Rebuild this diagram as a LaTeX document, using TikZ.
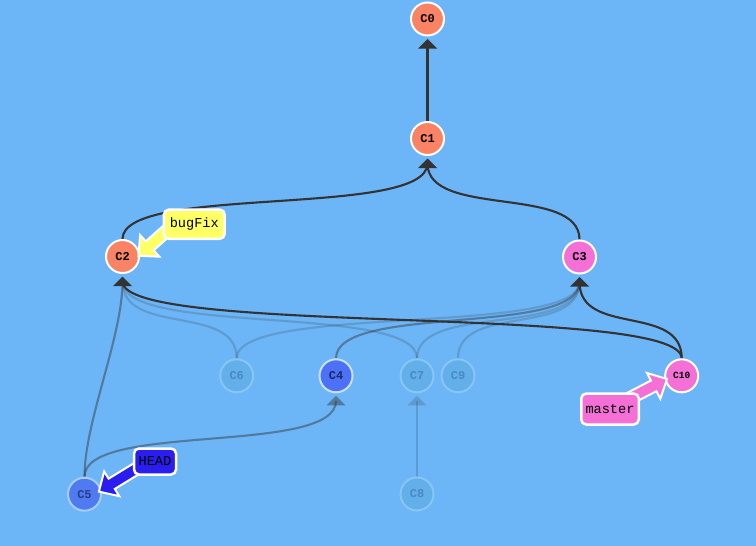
\documentclass[tikz,border=0pt]{standalone}
\usepackage{fontspec}
\newfontfamily\cmono{Liberation Mono}
\usetikzlibrary{calc}
\definecolor{bgblue}{RGB}{108,181,247}
\definecolor{salmon}{RGB}{250,131,101}
\definecolor{pinkc}{RGB}{244,112,214}
\definecolor{bluec}{RGB}{76,112,246}
\definecolor{headblue}{RGB}{43,29,240}
\definecolor{yellowc}{RGB}{255,255,102}
\definecolor{edgec}{RGB}{51,51,51}
\definecolor{fadefill}{RGB}{99,175,233}
\definecolor{fadestroke}{RGB}{135,198,245}
\definecolor{fadetext}{RGB}{72,137,198}
\pgfdeclarelayer{back}
\pgfdeclarelayer{front}
\pgfsetlayers{back,main,front}
\newcommand\EdgeTip[2]{\fill[edgec,#2] ($(#1)+(0,20)$) -- ++(9.5,9.5) -- ++(-19,0) -- cycle;}
\newcommand\BranchArrow[3]{%
  \path ($(#2)!15pt!(#1)$) coordinate (hb);
  \filldraw[fill=#3, draw=white, line width=2pt, line join=miter]
    ($(#1)!6pt!90:(#2)$) -- ($(hb)!6pt!90:(#2)$) -- ($(hb)!14.5pt!90:(#2)$) -- (#2)
    -- ($(hb)!14.5pt!-90:(#2)$) -- ($(hb)!6pt!-90:(#2)$) -- ($(#1)!6pt!-90:(#2)$) -- cycle;}
\begin{document}
\begin{tikzpicture}[x=1pt,y=-1pt,
  commit/.style={circle, draw=white, line width=2pt, minimum size=33pt, inner sep=0pt,
    font=\cmono\bfseries\fontsize{12}{12}\selectfont},
  salmoncommit/.style={commit, fill=salmon},
  pinkcommit/.style={commit, fill=pinkc},
  fadecommit/.style={commit, fill=fadefill, draw=fadestroke, text=fadetext},
  edge/.style={draw=edgec, line width=2.1pt},
  midedge/.style={edge, draw opacity=0.45},
  fadeedge/.style={edge, draw opacity=0.2},
  branch/.style={rectangle, rounded corners=5pt, draw=white, line width=2.5pt, inner sep=0pt,
    font=\cmono\fontsize{13.6}{14}\selectfont, text=black}]
\useasboundingbox (0,0) rectangle (756,546);
\begin{pgfonlayer}{back}
\fill[bgblue] (0,0) rectangle (756,546);
\end{pgfonlayer}
% commits
\node[salmoncommit] (C0) at (427.5,19) {C0};
\node[salmoncommit] (C1) at (427.5,138.5) {C1};
\node[salmoncommit] (C2) at (122.5,256.5) {C2};
\node[pinkcommit] (C3) at (579.5,257) {C3};
\node[fadecommit] (C6) at (236.7,375.8) {C6};
\node[commit, fill=bluec, draw={rgb,255:red,200;green,225;blue,250}, text={rgb,255:red,30;green,40;blue,100}] (C4) at (336,375.8) {C4};
\node[fadecommit] (C7) at (417,375.8) {C7};
\node[fadecommit] (C9) at (458,375.8) {C9};
\node[pinkcommit, font=\cmono\bfseries\fontsize{9.5}{9.5}\selectfont] (C10) at (681.7,375.8) {C10};
\node[commit, fill={rgb,255:red,80;green,122;blue,240}, draw={rgb,255:red,165;green,205;blue,250}, text={rgb,255:red,40;green,62;blue,135}] (C5) at (84.5,494.2) {C5};
\node[fadecommit] (C8) at (417,494) {C8};
% branch labels
\begin{pgfonlayer}{front}
\node[branch, fill=yellowc, minimum width=60.8pt, minimum height=29.2pt] (bugFix) at (194.3,224.2) {bugFix};
\node[branch, fill=pinkc, minimum width=57.5pt, minimum height=31pt] (master) at (610,409) {master};
\node[branch, fill=headblue, minimum width=42pt, minimum height=26pt] (HEAD) at (155,461.5) {HEAD};
\end{pgfonlayer}
% edges
\begin{pgfonlayer}{back}
\draw[fadeedge] (C6.north) .. controls +(0,-55) and +(0,55) .. ($(C2)+(0,25)$);
\draw[fadeedge] (C7.north) .. controls +(0,-55) and +(0,55) .. ($(C2)+(0,25)$);
\draw[fadeedge] (C6.north) .. controls +(0,-55) and +(0,55) .. ($(C3)+(0,25)$);
\draw[fadeedge] (C7.north) .. controls +(0,-55) and +(0,55) .. ($(C3)+(0,25)$);
\draw[fadeedge] (C9.north) .. controls +(0,-55) and +(0,55) .. ($(C3)+(0,25)$);
\draw[fadeedge] (C8.north) -- ($(C7)+(0,25)$);
\draw[midedge] (C4.north) .. controls +(0,-55) and +(0,55) .. ($(C3)+(0,25)$);
\draw[midedge] (C5.north) .. controls +(0,-55) and +(0,55) .. ($(C2)+(0,25)$);
\draw[midedge] (C5.north) .. controls +(0,-55) and +(0,55) .. ($(C4)+(0,25)$);
\draw[edge] (C1.north) -- ($(C0)+(0,25)$);
\draw[edge] (C2.north) .. controls +(0,-55) and +(0,55) .. ($(C1)+(0,25)$);
\draw[edge] (C3.north) .. controls +(0,-55) and +(0,55) .. ($(C1)+(0,25)$);
\draw[edge] (C10.north) .. controls +(0,-55) and +(0,55) .. ($(C2)+(0,25)$);
\draw[edge] (C10.north) .. controls +(0,-55) and +(0,55) .. ($(C3)+(0,25)$);
\EdgeTip{C0}{}
\EdgeTip{C1}{}
\EdgeTip{C2}{}
\EdgeTip{C3}{}
\EdgeTip{C4}{fill opacity=0.45}
\EdgeTip{C7}{fill opacity=0.2}
\end{pgfonlayer}
% branch arrows
\coordinate (bfTip) at ($(C2)+(16,-0.7)$);
\coordinate (bfTail) at ($(bugFix)+(-22.3,1.8)$);
\coordinate (msTip) at ($(C10)+(-14.7,3.2)$);
\coordinate (msTail) at ($(master)+(17,-9.3)$);
\coordinate (hdTip) at ($(C5)+(14.4,-2.6)$);
\coordinate (hdTail) at ($(HEAD)+(-17.8,6.7)$);
\BranchArrow{bfTail}{bfTip}{yellowc}
\BranchArrow{msTail}{msTip}{pinkc}
\BranchArrow{hdTail}{hdTip}{headblue}
\end{tikzpicture}
\end{document}
